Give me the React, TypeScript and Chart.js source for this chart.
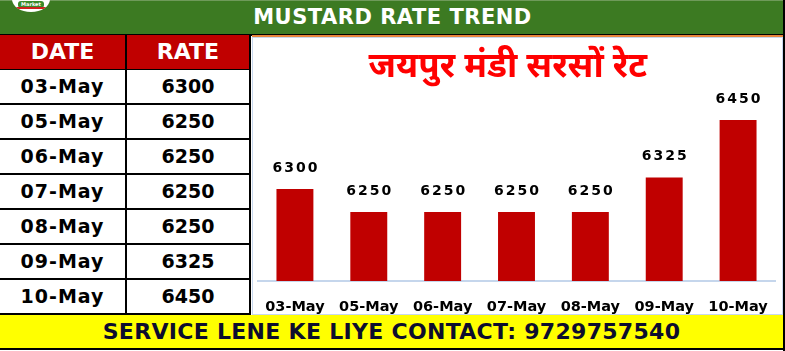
import React, { useEffect, useRef } from "react";
import { Chart, registerables } from "chart.js";

Chart.register(...registerables);

const categories = ["03-May", "05-May", "06-May", "07-May", "08-May", "09-May", "10-May"];
const rates = [6300, 6250, 6250, 6250, 6250, 6325, 6450];
const yMin = 6100;
const yMax = 6500;
const chartTitle = "जयपुर मंडी सरसों रेट\u2002";
const headerText = "MUSTARD RATE TREND";
const footerText = "SERVICE LENE KE LIYE CONTACT: 9729757540";
const tableHeads = ["DATE", "RATE"];

const BAR_COLOR = "#c00000";
const HEAVY = '"DejaVu Sans", "Liberation Sans", sans-serif';

const labelPlugin = {
  id: "barValueLabels",
  afterDatasetsDraw(chart: any) {
    const ctx = chart.ctx;
    const meta = chart.getDatasetMeta(0);
    meta.data.forEach((bar: any, i: number) => {
      ctx.save();
      ctx.font = 'bold 14px "DejaVu Sans", sans-serif';
      try {
        (ctx as any).letterSpacing = "2px";
      } catch (e) {}
      ctx.fillStyle = "#000000";
      ctx.textAlign = "center";
      ctx.textBaseline = "middle";
      ctx.fillText(String(rates[i]), bar.x + 1, bar.y - 21);
      ctx.restore();
    });
  },
};

function BarChart() {
  const ref = useRef<HTMLCanvasElement | null>(null);
  useEffect(() => {
    if (!ref.current) return;
    const chart = new Chart(ref.current, {
      type: "bar",
      data: {
        labels: categories,
        datasets: [
          {
            data: rates,
            backgroundColor: BAR_COLOR,
            borderWidth: 0,
            categoryPercentage: 1,
            barPercentage: 0.5,
          },
        ],
      },
      options: {
        animation: false,
        responsive: true,
        maintainAspectRatio: false,
        layout: { padding: { left: 5, right: 7, top: 0, bottom: 0 } },
        plugins: {
          legend: { display: false },
          tooltip: { enabled: false },
          title: {
            display: true,
            text: chartTitle,
            color: "#ff0000",
            font: {
              family: '"Noto Sans Devanagari", "Lohit Devanagari", "FreeSans", "Noto Sans", sans-serif',
              size: 35,
              weight: "bold",
              lineHeight: 1.2,
            },
            padding: { top: 11, bottom: 6 },
          },
        },
        scales: {
          x: {
            grid: { display: false, drawTicks: false },
            border: { display: true, color: "#c5d6ec", width: 2 },
            ticks: {
              color: "#000000",
              font: { family: '"DejaVu Sans", sans-serif', size: 14.5, weight: "bold", lineHeight: 3.6 },
              padding: 0,
              maxRotation: 0,
              autoSkip: false,
            },
            afterFit: (scale: any) => {
              scale.height = 33;
            },
          },
          y: {
            display: false,
            min: yMin,
            max: yMax,
          },
        },
      },
      plugins: [labelPlugin],
    });
    return () => chart.destroy();
  }, []);
  return <canvas ref={ref} />;
}

export default function App() {
  const rowH = 35;
  return (
    <div
      style={{
        position: "fixed",
        left: 0,
        top: 0,
        width: 785,
        height: 351,
        background: "#ffffff",
        overflow: "hidden",
        fontFamily: HEAVY,
      }}
    >
      {/* green header */}
      <div
        style={{
          position: "absolute",
          left: 0,
          top: 0,
          width: 783,
          height: 33,
          background: "#3c7a22",
          borderTop: "1px solid #6f9a5a",
          borderBottom: "2px solid #000",
          color: "#fff",
          fontWeight: "bold",
          fontSize: 21,
          lineHeight: "33px",
          textAlign: "center",
          letterSpacing: 0.5,
        }}
      >
        <span style={{ position: "relative", left: 1 }}>{headerText}</span>
      </div>
      {/* logo */}
      <div
        style={{
          position: "absolute",
          left: 12,
          top: -14,
          width: 38,
          height: 26,
          borderRadius: "50%",
          background: "#ffffff",
          overflow: "hidden",
        }}
      >
        <div
          style={{
            position: "absolute",
            left: 6,
            top: 15,
            width: 26,
            height: 7,
            background: "#3a8a2a",
            borderRadius: 3,
            color: "#fff",
            fontSize: 5,
            lineHeight: "7px",
            textAlign: "center",
            fontWeight: "bold",
          }}
        >
          Market
        </div>
        <div
          style={{
            position: "absolute",
            left: 4,
            top: 21,
            width: 30,
            height: 2,
            background: "#d02020",
            borderRadius: 1,
          }}
        />
      </div>
      {/* orange strip above chart */}
      <div style={{ position: "absolute", left: 252, top: 35, width: 531, height: 2, background: "#e8843a" }} />
      {/* right frame */}
      <div style={{ position: "absolute", left: 783, top: 0, width: 2, height: 351, background: "#000" }} />

      {/* table */}
      <div style={{ position: "absolute", left: 0, top: 35, width: 251 }}>
        <div style={{ display: "flex", height: rowH - 1, background: "#c00000", borderBottom: "1px solid #000" }}>
          {tableHeads.map((h, i) => (
            <div
              key={h}
              style={{
                width: i === 0 ? 126 : 123,
                borderRight: "2px solid #000",
                color: "#fff",
                fontWeight: "bold",
                fontSize: 22,
                lineHeight: `${rowH - 1}px`,
                textAlign: "center",
              }}
            >
              {h}
            </div>
          ))}
        </div>
        {categories.map((c, i) => (
          <div
            key={c}
            style={{
              display: "flex",
              height: rowH - 2,
              borderTop: i === 0 ? "none" : "2px solid #000",
              borderBottom: i === categories.length - 1 ? "2px solid #000" : "none",
            }}
          >
            <div
              style={{
                width: 126,
                borderRight: "2px solid #000",
                color: "#000",
                fontWeight: "bold",
                fontSize: 19,
                letterSpacing: 1,
                lineHeight: `${rowH - 2}px`,
                textAlign: "center",
              }}
            >
              {c}
            </div>
            <div
              style={{
                width: 123,
                borderRight: "2px solid #000",
                color: "#000",
                fontWeight: "bold",
                fontSize: 19,
                lineHeight: `${rowH - 2}px`,
                textAlign: "center",
              }}
            >
              {rates[i]}
            </div>
          </div>
        ))}
      </div>

      {/* chart panel */}
      <div
        style={{
          position: "absolute",
          left: 252,
          top: 37,
          width: 531,
          height: 278,
          border: "1px solid #c8d8ee",
          boxSizing: "border-box",
          background: "#fff",
        }}
      >
        <div style={{ position: "relative", width: 529, height: 276 }}>
          <BarChart />
        </div>
      </div>

      {/* footer */}
      <div
        style={{
          position: "absolute",
          left: 0,
          top: 315,
          width: 783,
          height: 33,
          background: "#ffff00",
          borderBottom: "2px solid #000",
          color: "#0d0d2e",
          fontWeight: "bold",
          fontSize: 22,
          letterSpacing: 0.3,
          lineHeight: "33px",
          textAlign: "center",
        }}
      >
        {footerText}
      </div>
    </div>
  );
}
